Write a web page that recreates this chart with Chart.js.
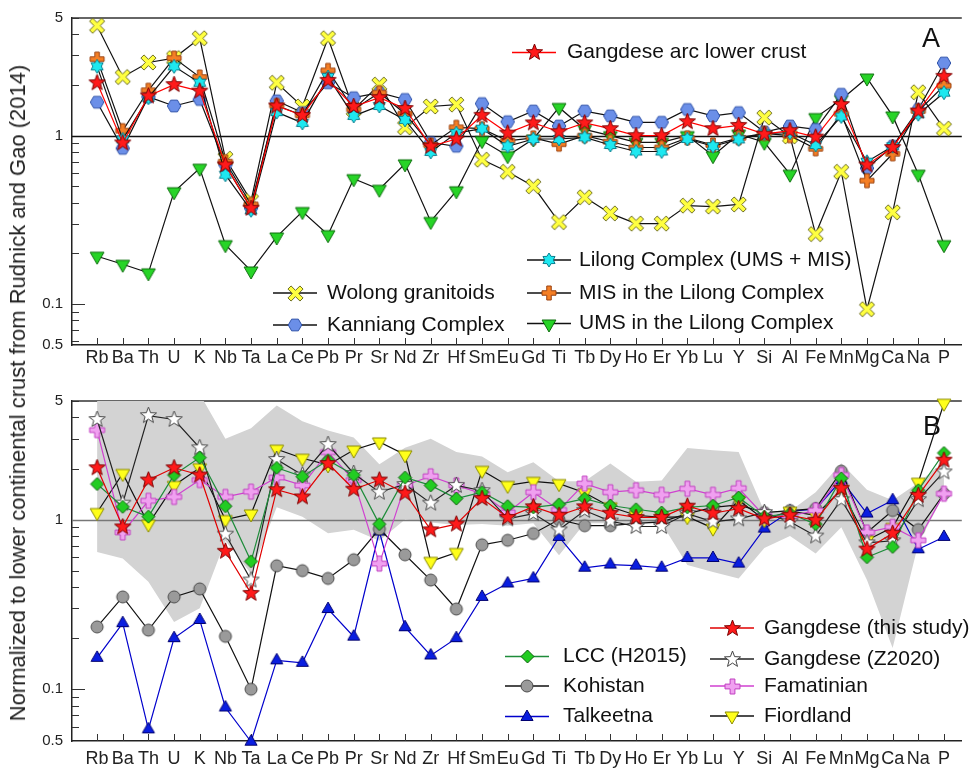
<!DOCTYPE html>
<html>
<head>
<meta charset="utf-8">
<script src="https://cdn.jsdelivr.net/npm/chart.js@4.4.1/dist/chart.umd.min.js"></script>
<style>
  body { margin: 0; background: #fff; width: 970px; height: 769px; overflow: hidden; position: relative; }
  canvas { position: absolute; left: 0; }
  #ytitle {
    position: absolute; left: 18px; top: 393px; white-space: nowrap;
    transform: translate(-50%, -50%) rotate(-90deg);
    font: 22px "Liberation Sans", Arial, sans-serif; color: #222;
  }
</style>
</head>
<body>
<canvas id="chartA" width="970" height="380" style="top:0"></canvas>
<canvas id="chartB" width="970" height="389" style="top:380px"></canvas>
<div id="ytitle">Normalized to lower continental crust from Rudnick and Gao (2014)</div>
<script>
// ---- data ----
const elements = ['Rb','Ba','Th','U','K','Nb','Ta','La','Ce','Pb','Pr','Sr','Nd','Zr','Hf','Sm','Eu','Gd','Ti','Tb','Dy','Ho','Er','Yb','Lu','Y','Si','Al','Fe','Mn','Mg','Ca','Na','P'];

// panel A
const gangdeseArc = [2.06,0.905,1.72,2.01,1.84,0.67,0.37,1.50,1.32,2.13,1.49,1.68,1.45,0.865,0.955,1.32,1.035,1.19,1.055,1.19,1.10,1.0,1.0,1.21,1.10,1.15,1.02,1.07,0.98,1.53,0.67,0.85,1.40,2.25];
const lilong      = [2.58,0.95,1.68,2.58,2.06,0.586,0.36,1.38,1.19,2.23,1.31,1.50,1.24,0.80,1.035,1.10,0.865,0.955,0.955,0.977,0.88,0.805,0.805,0.955,0.865,0.95,1.03,1.04,0.88,1.30,0.70,0.865,1.34,1.80];
const misLilong   = [2.85,1.07,1.86,2.89,2.23,0.70,0.39,1.51,1.32,2.44,1.43,1.80,1.35,0.88,1.12,1.10,0.93,0.97,0.89,1.0,0.92,0.85,0.85,0.97,0.88,0.97,1.03,1.0,0.835,1.35,0.54,0.78,1.40,1.98];
const umsLilong   = [0.192,0.172,0.153,0.464,0.64,0.225,0.157,0.25,0.354,0.258,0.555,0.48,0.68,0.309,0.47,0.935,0.76,0.955,1.47,1.09,1.0,0.913,0.913,1.0,0.76,1.02,0.913,0.59,1.28,1.64,2.20,1.31,0.59,0.225];
const wolong      = [4.5,2.23,2.72,2.89,3.79,0.73,0.41,2.06,1.49,3.79,1.43,2.01,1.12,1.49,1.53,0.72,0.61,0.50,0.306,0.43,0.345,0.30,0.30,0.384,0.379,0.39,1.28,0.99,0.26,0.61,0.093,0.35,1.81,1.10];
const kanniang    = [1.58,0.84,1.70,1.50,1.64,0.67,0.37,1.61,1.37,2.06,1.68,1.80,1.64,0.91,0.865,1.55,1.21,1.40,1.14,1.40,1.31,1.20,1.20,1.43,1.31,1.37,1.05,1.14,1.09,1.76,0.64,0.865,1.43,2.70];

// panel B
const gangdeseThis = [2.02,0.905,1.71,2.02,1.83,0.65,0.367,1.50,1.36,2.14,1.51,1.71,1.43,0.87,0.94,1.33,1.03,1.19,1.06,1.19,1.09,1.03,1.03,1.20,1.09,1.16,1.01,1.06,0.99,1.53,0.67,0.83,1.39,2.24];
const lccH2015     = [1.62,1.19,1.04,1.83,2.32,1.20,0.567,2.02,1.79,2.24,1.83,0.94,1.77,1.59,1.33,1.45,1.20,1.18,1.23,1.33,1.21,1.15,1.10,1.18,1.21,1.35,1.04,1.085,0.94,1.75,0.60,0.69,1.49,2.47];
const gangdeseZ2020 = [3.89,1.25,4.1,3.89,2.65,0.82,0.44,2.26,1.83,2.77,1.87,1.45,1.61,1.25,1.59,1.48,1.01,1.085,0.87,1.13,0.98,0.91,0.91,1.085,0.97,1.01,1.10,0.97,0.80,1.31,0.73,0.75,1.31,1.91];
const famatinian   = [3.37,0.84,1.29,1.36,1.71,1.36,1.46,1.77,1.59,2.5,1.71,0.55,1.59,1.80,1.59,1.42,1.10,1.45,1.14,1.63,1.45,1.49,1.40,1.52,1.40,1.53,1.05,1.05,1.13,1.83,0.84,0.905,0.755,1.42];
const fiordland    = [1.10,1.87,0.94,1.59,2.02,1.0,1.08,2.6,2.3,2.1,2.57,2.87,2.41,0.567,0.64,1.95,1.59,1.68,1.63,1.44,1.19,1.06,1.03,1.04,0.89,1.30,1.0,1.12,1.06,1.5,0.755,0.9,1.66,4.85];
const kohistan     = [0.233,0.35,0.223,0.35,0.39,0.205,0.10,0.534,0.50,0.45,0.58,0.88,0.62,0.44,0.297,0.71,0.755,0.827,1.0,0.92,0.92,0.95,0.97,1.085,1.18,1.22,1.10,1.13,1.16,1.93,0.84,1.13,0.873,1.42];
const talkeetna    = [0.153,0.245,0.058,0.20,0.256,0.078,0.049,0.148,0.143,0.297,0.204,0.85,0.232,0.158,0.20,0.35,0.42,0.45,0.79,0.52,0.543,0.535,0.52,0.594,0.594,0.55,0.885,1.12,1.15,1.71,1.085,1.30,0.668,0.79];
const rangeUpper   = [5.5,5.5,5.5,5.5,5.5,3.0,3.45,4.7,3.8,3.35,3.05,2.12,2.65,3.0,2.5,2.35,1.9,2.18,1.68,1.68,2.14,1.67,1.70,2.64,2.56,2.5,1.12,1.12,1.45,2.15,1.5,1.3,1.65,2.2];
const rangeLower   = [0.644,0.589,0.43,0.249,0.30,0.75,0.48,1.18,1.04,0.83,0.87,0.75,1.0,0.96,0.93,0.94,0.92,0.95,0.616,0.95,0.95,0.95,0.95,0.54,0.49,0.45,0.68,0.8,0.63,0.9,0.44,0.175,0.72,1.4];

const yMinorTicks = [0.06,0.07,0.08,0.09,0.1,0.2,0.3,0.4,0.5,0.6,0.7,0.8,0.9,1,2,3,4,5];
const yTickLabels = { 5: '5', 1: '1', 0.1: '0.1' };
const bottomLabel = '0.5';

// ---- markers ----
function regPts(n, r, rot) {
  const pts = [];
  for (let i = 0; i < n; i++) { const a = rot + i * 2 * Math.PI / n; pts.push([r * Math.cos(a), r * Math.sin(a)]); }
  return pts;
}
function starPts(n, r1, r2, rot) {
  const pts = [];
  for (let i = 0; i < 2 * n; i++) { const r = i % 2 ? r2 : r1; const a = rot + i * Math.PI / n; pts.push([r * Math.cos(a), r * Math.sin(a)]); }
  return pts;
}
function crossPts(r, t, rot) {
  const base = [[-t,-r],[t,-r],[t,-t],[r,-t],[r,t],[t,t],[t,r],[-t,r],[-t,t],[-r,t],[-r,-t],[-t,-t]];
  const c = Math.cos(rot), s = Math.sin(rot);
  return base.map(([x, y]) => [x * c - y * s, x * s + y * c]);
}
function makeMarker(shape, size, fill, stroke) {
  const dim = Math.ceil(size) + 4;
  const c = document.createElement('canvas');
  c.width = c.height = dim;
  const g = c.getContext('2d');
  g.translate(dim / 2, dim / 2);
  const r = size / 2;
  g.beginPath();
  if (shape === 'circle') {
    g.arc(0, 0, r, 0, Math.PI * 2);
  } else {
    const pts = {
      star: () => starPts(5, r, r * 0.42, -Math.PI / 2),
      hexagram: () => starPts(6, r, r * 0.6, -Math.PI / 2),
      hexagon: () => regPts(6, r, 0),
      triUp: () => regPts(3, r, -Math.PI / 2),
      triDown: () => regPts(3, r, Math.PI / 2),
      diamond: () => regPts(4, r, -Math.PI / 2),
      plus: () => crossPts(r, r * 0.32, 0),
      x: () => crossPts(r, r * 0.26, Math.PI / 4)
    }[shape]();
    pts.forEach(([px, py], i) => i ? g.lineTo(px, py) : g.moveTo(px, py));
    g.closePath();
  }
  g.fillStyle = fill; g.fill();
  g.lineWidth = 1; g.strokeStyle = stroke; g.stroke();
  return c;
}

const mk = {
  redStar:   makeMarker('star', 17, '#ff1a1a', '#7a0000'),
  whiteStar: makeMarker('star', 17, '#ffffff', '#444444'),
  hexBlue:   makeMarker('hexagon', 13.5, '#6b8fe8', '#2b4fa8'),
  xYellow:   makeMarker('x', 17, '#ffff40', '#6d6d20'),
  hexagram:  makeMarker('hexagram', 14, '#1ee8f0', '#0a7f8f'),
  plusOrange:makeMarker('plus', 14, '#f57f25', '#9a4210'),
  triGreen:  makeMarker('triDown', 16, '#27d427', '#0d6d0d'),
  diamond:   makeMarker('diamond', 13, '#22cc22', '#0b5e0b'),
  circle:    makeMarker('circle', 12, '#9a9a9a', '#4a4a4a'),
  triBlue:   makeMarker('triUp', 14, '#0a1ee0', '#000070'),
  plusPink:  makeMarker('plus', 15, '#f0a0f0', '#c040c0'),
  triYellow: makeMarker('triDown', 16, '#ffff1a', '#8a8a00')
};

function series(values, line, marker, order) {
  return {
    data: values.map((v, i) => ({ x: i, y: v })),
    borderColor: line, borderWidth: 1.2, tension: 0, fill: false,
    pointStyle: marker, pointRadius: 7, pointHoverRadius: 7,
    clip: false, order: order
  };
}

// ---- plugin: frame, inward ticks, line at 1, legend, panel letter ----
const FONT = '"Liberation Sans", Arial, sans-serif';
function drawRefLine(chart, o) {
  const { ctx, chartArea: a, scales: { y } } = chart;
  const py = Math.round(y.getPixelForValue(1)) + 0.5;
  ctx.save();
  ctx.strokeStyle = o.refColor; ctx.lineWidth = 1.3;
  ctx.beginPath(); ctx.moveTo(a.left, py); ctx.lineTo(a.right, py); ctx.stroke();
  ctx.restore();
}
const panelPlugin = {
  id: 'panel',
  beforeDatasetsDraw(chart, args, o) {
    const { ctx, chartArea: a, scales: { x, y } } = chart;
    ctx.save();
    ctx.strokeStyle = '#333'; ctx.lineWidth = 1.5;
    ctx.beginPath(); ctx.moveTo(a.left, a.top); ctx.lineTo(a.right, a.top); ctx.stroke();
    ctx.lineWidth = 1;
    y.ticks.forEach(t => {
      if (t.value <= o.yMin || t.value === 1) return;
      const py = Math.round(y.getPixelForValue(t.value)) + 0.5;
      const len = (t.value === 0.1) ? 13 : 7;
      ctx.beginPath(); ctx.moveTo(a.left, py); ctx.lineTo(a.left + len, py); ctx.stroke();
    });
    x.ticks.forEach(t => {
      const px = Math.round(x.getPixelForValue(t.value)) + 0.5;
      ctx.beginPath(); ctx.moveTo(px, a.bottom); ctx.lineTo(px, a.bottom - 7); ctx.stroke();
    });
    ctx.restore();
    if (o.refIndex == null) drawRefLine(chart, o);
  },
  afterDatasetDraw(chart, args, o) {
    if (args.index === o.refIndex) drawRefLine(chart, o);
  },
  afterDraw(chart, args, o) {
    const ctx = chart.ctx;
    ctx.save();
    o.legend.forEach(it => {
      ctx.strokeStyle = it.line; ctx.lineWidth = 1.3;
      ctx.beginPath(); ctx.moveTo(it.x, it.y); ctx.lineTo(it.x + 44, it.y); ctx.stroke();
      ctx.drawImage(it.marker, Math.round(it.x + 22 - it.marker.width / 2), Math.round(it.y - it.marker.height / 2));
      ctx.fillStyle = '#111'; ctx.font = '21px ' + FONT; ctx.textBaseline = 'middle'; ctx.textAlign = 'left';
      ctx.fillText(it.label, it.tx, it.y);
    });
    ctx.fillStyle = '#111'; ctx.font = '27px ' + FONT; ctx.textAlign = 'center'; ctx.textBaseline = 'middle';
    ctx.fillText(o.letter, o.letterX, o.letterY);
    ctx.restore();
  }
};

Chart.defaults.font.family = FONT;
Chart.defaults.color = '#222';

const xMin = -0.977, xMax = 33.695;

function buildPanel(id, cfg) {
  const yTicks = [cfg.yMin].concat(yMinorTicks);
  return new Chart(document.getElementById(id), {
    type: 'line',
    data: { datasets: cfg.datasets },
    options: {
      responsive: false, animation: false, devicePixelRatio: 1,
      layout: { padding: { top: cfg.top, left: 0, right: 0, bottom: 0 } },
      plugins: { legend: { display: false }, tooltip: { enabled: false }, panel: cfg.panel },
      scales: {
        x: {
          type: 'linear', min: xMin, max: xMax,
          grid: { display: false, drawTicks: false },
          border: { display: true, color: '#222', width: 1.5 },
          ticks: { autoSkip: false, maxRotation: 0, padding: cfg.xPad, font: { size: 18 }, color: '#222',
                   callback: v => elements[v] ?? '' },
          afterBuildTicks: s => { s.ticks = elements.map((e, i) => ({ value: i })); },
          afterFit: s => { s.height = cfg.xHeight; }
        },
        y: {
          type: 'logarithmic', min: cfg.yMin, max: 5,
          grid: { display: false, drawTicks: false },
          border: { display: true, color: '#222', width: 1.5 },
          ticks: { autoSkip: false, padding: 9, font: { size: 15 }, color: '#222',
                   callback: v => v === cfg.yMin ? bottomLabel : (yTickLabels[v] ?? '') },
          afterBuildTicks: s => { s.ticks = yTicks.map(v => ({ value: v })); },
          afterFit: s => { s.width = 72; }
        }
      }
    },
    plugins: [panelPlugin]
  });
}

// panel A
buildPanel('chartA', {
  top: 15, xHeight: 35, xPad: 2, yMin: 0.057,
  datasets: [
    series(gangdeseArc, '#ff0000', mk.redStar, 1),
    series(lilong, '#111', mk.hexagram, 2),
    series(misLilong, '#111', mk.plusOrange, 3),
    series(kanniang, '#111', mk.hexBlue, 4),
    series(wolong, '#111', mk.xYellow, 5),
    series(umsLilong, '#111', mk.triGreen, 6)
  ],
  panel: {
    yMin: 0.057, refColor: '#111', refIndex: null, letter: 'A', letterX: 931, letterY: 40,
    legend: [
      { label: 'Gangdese arc lower crust', line: '#ff0000', marker: mk.redStar, x: 512, tx: 567, y: 52.5 },
      { label: 'Lilong Complex (UMS + MIS)', line: '#111', marker: mk.hexagram, x: 527, tx: 579, y: 260 },
      { label: 'MIS in the Lilong Complex', line: '#111', marker: mk.plusOrange, x: 527, tx: 579, y: 293 },
      { label: 'UMS in the Lilong Complex', line: '#111', marker: mk.triGreen, x: 527, tx: 579, y: 323.5 },
      { label: 'Wolong granitoids', line: '#111', marker: mk.xYellow, x: 273, tx: 327, y: 293 },
      { label: 'Kanniang Complex', line: '#111', marker: mk.hexBlue, x: 273, tx: 327, y: 325 }
    ]
  }
});

// panel B
const bandIndex = 7;
buildPanel('chartB', {
  top: 21, xHeight: 28, xPad: 7, yMin: 0.0495,
  datasets: [
    series(gangdeseThis, '#e00000', mk.redStar, 1),
    series(lccH2015, '#1e8c3a', mk.diamond, 2),
    series(gangdeseZ2020, '#222', mk.whiteStar, 3),
    series(famatinian, '#d040d0', mk.plusPink, 4),
    series(fiordland, '#111', mk.triYellow, 5),
    series(kohistan, '#111', mk.circle, 6),
    series(talkeetna, '#0000cc', mk.triBlue, 7),
    { data: rangeUpper.map((v, i) => ({ x: i, y: v })), borderWidth: 0, pointRadius: 0, tension: 0,
      fill: '+1', backgroundColor: '#d3d3d3', order: 100 },
    { data: rangeLower.map((v, i) => ({ x: i, y: v })), borderWidth: 0, pointRadius: 0, tension: 0,
      fill: false, order: 100 }
  ],
  panel: {
    yMin: 0.0495, refColor: '#777', refIndex: bandIndex, letter: 'B', letterX: 932, letterY: 48,
    legend: [
      { label: 'LCC (H2015)', line: '#1e8c3a', marker: mk.diamond, x: 505, tx: 563, y: 276.5 },
      { label: 'Kohistan', line: '#111', marker: mk.circle, x: 505, tx: 563, y: 306 },
      { label: 'Talkeetna', line: '#0000cc', marker: mk.triBlue, x: 505, tx: 563, y: 336.5 },
      { label: 'Gangdese (this study)', line: '#e00000', marker: mk.redStar, x: 710, tx: 764, y: 248 },
      { label: 'Gangdese (Z2020)', line: '#222', marker: mk.whiteStar, x: 710, tx: 764, y: 279 },
      { label: 'Famatinian', line: '#d040d0', marker: mk.plusPink, x: 710, tx: 764, y: 306 },
      { label: 'Fiordland', line: '#111', marker: mk.triYellow, x: 710, tx: 764, y: 336 }
    ]
  }
});
</script>
</body>
</html>
